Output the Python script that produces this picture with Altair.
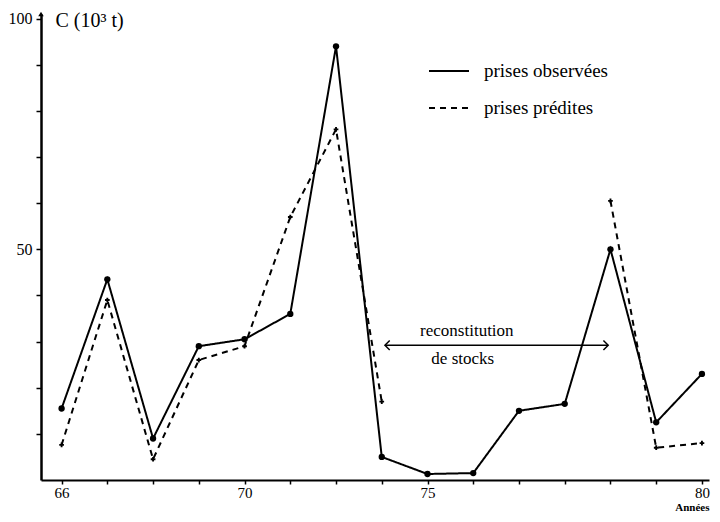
import altair as alt
import pandas as pd

# ---- data ----
years = list(range(66, 81))
observed = [15.5, 43.5, 9, 29, 30.5, 36, 94, 5, 1.3, 1.5, 15, 16.5, 50, 12.5, 23]
predicted = [7.6, 39, 4.5, 26, 29, 57, 76, 17, None, None, None, None, 60.5, 7, 8]
series_names = ["prises observées", "prises prédites"]

# tick labels as printed in the reference (the "75" sits under the 9th tick)
x_label_text = {66: "66", 70: "70", 74: "75", 80: "80"}
y_tick_values = list(range(10, 101, 10))
y_label_text = {50: "50", 100: "100"}

annot_lines = ["reconstitution", "de stocks"]

FONT = "Liberation Serif"

# ---- tables ----
rows = []
for yr, v in zip(years, observed):
    rows.append({"year": yr, "C": v, "serie": series_names[0], "seg": "o"})
seg = 0
gap = False
for yr, v in zip(years, predicted):
    if v is None:
        gap = True
        continue
    if gap:
        seg += 1
        gap = False
    rows.append({"year": yr, "C": v, "serie": series_names[1], "seg": f"p{seg}"})
df = pd.DataFrame(rows)

x_expr = " : ".join(f"datum.value == {k} ? '{v}'" for k, v in x_label_text.items()) + " : ''"
y_expr = " : ".join(f"datum.value == {k} ? '{v}'" for k, v in y_label_text.items()) + " : ''"

W, H = 668, 466
XDOM = [65.55, 65.55 + W / 45.74]
YDOM = [0, 101]

x_enc = alt.X(
    "year:Q",
    scale=alt.Scale(domain=XDOM, nice=False, zero=False),
    axis=alt.Axis(
        values=years, labelExpr=x_expr, grid=False, tickSize=4, tickWidth=1.5,
        tickColor="black", domainColor="black", domainWidth=2,
        labelFont=FONT, labelFontSize=15, labelColor="black", labelPadding=1,
        labelFlush=False, labelOverlap=False,
        title="Années", titleFont=FONT, titleFontSize=11, titleFontWeight="bold",
        titleColor="black", titleX=W, titleY=30, titleAlign="right",
        titleBaseline="alphabetic",
    ),
)
y_enc = alt.Y(
    "C:Q",
    scale=alt.Scale(domain=YDOM, nice=False),
    axis=alt.Axis(
        values=y_tick_values, labelExpr=y_expr, grid=False, tickSize=5,
        tickWidth=1.5, tickColor="black", domainColor="black", domainWidth=2.5,
        labelFont=FONT, labelFontSize=16, labelColor="black", labelPadding=4,
        labelOverlap=False, labelFlush=False,
        title="C (10³ t)", titleFont=FONT, titleFontSize=20,
        titleFontWeight="normal", titleColor="black", titleAngle=0,
        titleX=14, titleY=6, titleAlign="left", titleBaseline="middle",
    ),
)

lines = alt.Chart(df).mark_line(color="black", strokeWidth=2).encode(
    x=x_enc,
    y=y_enc,
    detail="seg:N",
    strokeDash=alt.StrokeDash(
        "serie:N",
        scale=alt.Scale(domain=series_names, range=[[1, 0], [6, 5]]),
        legend=alt.Legend(
            title=None, orient="none", legendX=387, legendY=36,
            symbolType="stroke", symbolSize=1600, symbolStrokeWidth=2,
            symbolStrokeColor="black", labelFont=FONT, labelFontSize=19,
            labelColor="black", labelOffset=14, rowPadding=6,
        ),
    ),
)

obs_pts = alt.Chart(df).transform_filter(
    alt.datum.serie == series_names[0]
).mark_circle(color="black", size=40, opacity=1).encode(x="year:Q", y="C:Q")

pred_pts = alt.Chart(df).transform_filter(
    alt.datum.serie == series_names[1]
).mark_point(shape="cross", filled=True, color="black", size=22, opacity=1).encode(
    x="year:Q", y="C:Q"
)

# annotation: double arrow "reconstitution de stocks"
arrow_df = pd.DataFrame({"year": [73.07], "year2": [77.95], "C": [29.2]})
arrow = alt.Chart(arrow_df).mark_rule(color="black", strokeWidth=1.5).encode(
    x="year:Q", x2="year2:Q", y="C:Q"
)
head_l = alt.Chart(pd.DataFrame({"year": [73.07], "C": [29.2]})).mark_point(
    shape="M 1 -1 L 0 0 L 1 1", filled=False, color="black", strokeWidth=1.5,
    size=90, opacity=1,
).encode(x="year:Q", y="C:Q")
head_r = alt.Chart(pd.DataFrame({"year": [77.95], "C": [29.2]})).mark_point(
    shape="M -1 -1 L 0 0 L -1 1", filled=False, color="black", strokeWidth=1.5,
    size=90, opacity=1,
).encode(x="year:Q", y="C:Q")

text_df = pd.DataFrame({"year": [74.86, 74.77], "C": [32.3, 26.2], "label": annot_lines})
texts = alt.Chart(text_df).mark_text(
    font=FONT, fontSize=17, color="black", align="center", baseline="middle"
).encode(x="year:Q", y="C:Q", text="label:N")

# y-axis arrow tip
tip = alt.Chart(pd.DataFrame({"year": [XDOM[0]], "C": [YDOM[1]]})).mark_point(
    shape="triangle-up", filled=True, color="black", size=30, opacity=1
).encode(x="year:Q", y="C:Q")

chart = alt.layer(lines, obs_pts, pred_pts, arrow, head_l, head_r, texts, tip).properties(
    width=W, height=H,
    autosize=alt.AutoSizeParams(type="none"),
    padding={"left": 33, "top": 6, "right": 2, "bottom": 34},
    background="white",
).configure_view(stroke=None)

chart.save("out.html", embed_options={"renderer": "svg", "actions": False})
